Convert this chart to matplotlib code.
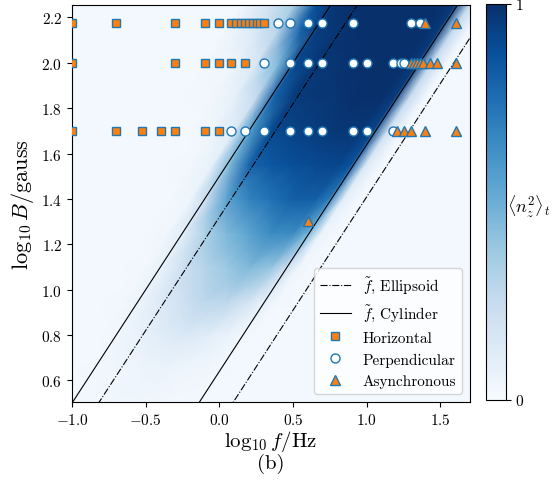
"""
Phase map of <n_z^2>_t over (log f, log B) with the experimental runs on top.
"""

import matplotlib
matplotlib.use('Agg')
import matplotlib.pyplot as plt
from matplotlib.lines import Line2D
import numpy as np

plt.rcParams['font.family'] = 'serif'
plt.rcParams['font.serif'] = ['cmr10']
plt.rcParams['mathtext.fontset'] = 'cm'
plt.rcParams['axes.formatter.use_mathtext'] = True

# field strengths of the three run rows (gauss)
B_HIGH, B_MID, B_LOW = 150, 100, 50

# horizontal runs: frequencies (Hz) per row
HOR_HIGH = [0.1, 0.2, 0.5, 0.8, 1.0, 1.2, 1.3, 1.4, 1.5, 1.6, 1.7, 1.8, 1.9, 2.0]
HOR_MID = [0.1, 0.5, 0.8, 1.0, 1.2, 1.5]
HOR_LOW = [0.1, 0.2, 0.3, 0.4, 0.5, 0.8, 1.0]

# perpendicular runs
PER_HIGH = [2.5, 3, 4, 5, 8, 20, 23]
PER_MID = [2, 3, 4, 5, 8, 10, 15, 17, 18]
PER_LOW = [1.2, 1.5, 2, 3, 4, 5, 8, 10, 15]

# asynchronous runs
ASY_HIGH = [25, 40]
ASY_MID = [20, 21, 22, 23, 24, 27, 30, 40]
ASY_LOW = [16, 18, 20, 25, 40]
ASY_EXTRA_F, ASY_EXTRA_B = [4], [20]

# f~ lines: log10 B = log10 f + offset
CYL_OFFSETS = [1.50, 0.64]
ELL_OFFSETS = [1.32, 0.41]

# simulated <n_z^2>_t, sampled along the band: rows in log10 B,
# columns in (log10 B - log10 f)
BAND_Y = [0.5, 0.65, 0.8, 0.95, 1.1, 1.25, 1.4, 1.55, 1.7, 1.85, 2.0, 2.15, 2.26]
BAND_U = [0.45, 0.56, 0.66, 0.75, 0.9, 1.05, 1.2, 1.35, 1.48, 1.6, 1.75, 1.9, 2.1]
BAND_VALUES = [
    [.02, .02, .02, .03, .03, .04, .04, .03, .03, .02, .02, .02, .02],
    [.02, .02, .03, .04, .05, .06, .05, .04, .03, .02, .02, .02, .02],
    [.02, .02, .04, .07, .12, .14, .11, .07, .04, .02, .02, .02, .02],
    [.02, .03, .10, .18, .28, .28, .20, .13, .06, .03, .02, .02, .02],
    [.02, .04, .25, .40, .45, .38, .30, .20, .08, .03, .02, .02, .02],
    [.02, .06, .50, .65, .65, .55, .45, .32, .12, .04, .02, .02, .02],
    [.02, .10, .72, .82, .82, .75, .68, .55, .25, .05, .02, .02, .02],
    [.02, .15, .86, .92, .90, .88, .85, .80, .45, .08, .03, .02, .02],
    [.02, .20, .92, .97, .97, .95, .93, .90, .60, .12, .04, .02, .02],
    [.02, .25, .95, 1.0, 1.0, .98, .97, .95, .80, .25, .08, .03, .02],
    [.02, .25, .96, 1.0, 1.0, 1.0, .98, .97, .90, .45, .15, .05, .02],
    [.02, .25, .96, 1.0, 1.0, 1.0, 1.0, .98, .95, .80, .30, .15, .03],
    [.02, .25, .96, 1.0, 1.0, 1.0, 1.0, 1.0, .97, .88, .35, .20, .05],
]

XLIM = (-1.0, 1.7)
YLIM = (0.505, 2.255)

ORANGE = '#ff7f0e'
BLUE = '#1f77b4'


def runs(ax, freqs, b, marker, face, ms):
    f = np.log10(freqs)
    ax.plot(f, np.full(len(f), np.log10(b)), ls='none', marker=marker, ms=ms,
            mfc=face, mec=BLUE, mew=1.0, zorder=4)


fig = plt.figure(figsize=(5.52, 4.89), dpi=100)
ax = fig.add_axes([0.1304, 0.1759, 0.7210, 0.8118])
cax = fig.add_axes([0.8804, 0.1800, 0.0362, 0.8098])

cmap = plt.cm.Blues
ax.set_facecolor(cmap(0.02))

# background map
yy = np.repeat(np.array(BAND_Y)[:, None], len(BAND_U), axis=1)
xx = yy - np.array(BAND_U)[None, :]
mesh = ax.pcolormesh(xx, yy, np.array(BAND_VALUES), shading='gouraud',
                     cmap=cmap, vmin=0, vmax=1, rasterized=True, zorder=1)

# f~ lines
xl = np.array(XLIM)
for c in ELL_OFFSETS:
    ax.plot(xl, xl + c, color='k', ls='-.', lw=0.8, zorder=3)
for c in CYL_OFFSETS:
    ax.plot(xl, xl + c, color='k', ls='-', lw=0.8, zorder=3)

# runs
for freqs, b in [(HOR_HIGH, B_HIGH), (HOR_MID, B_MID), (HOR_LOW, B_LOW)]:
    runs(ax, freqs, b, 's', ORANGE, 6)
for freqs, b in [(PER_HIGH, B_HIGH), (PER_MID, B_MID), (PER_LOW, B_LOW)]:
    runs(ax, freqs, b, 'o', 'white', 6.5)
for freqs, b in [(ASY_HIGH, B_HIGH), (ASY_MID, B_MID), (ASY_LOW, B_LOW)]:
    runs(ax, freqs, b, '^', ORANGE, 7)
ax.plot(np.log10(ASY_EXTRA_F), np.log10(ASY_EXTRA_B), ls='none', marker='^',
        ms=7, mfc=ORANGE, mec=BLUE, mew=1.0, zorder=4)

ax.set_xlim(*XLIM)
ax.set_ylim(*YLIM)
ax.set_xticks([-1.0, -0.5, 0.0, 0.5, 1.0, 1.5])
ax.set_yticks([0.6, 0.8, 1.0, 1.2, 1.4, 1.6, 1.8, 2.0, 2.2])
ax.tick_params(labelsize=11)
ax.set_xlabel(r'$\log_{10} f/\mathrm{Hz}$' + '\n(b)', fontsize=15,
              linespacing=1.0, labelpad=1)
ax.set_ylabel(r'$\log_{10} B/\mathrm{gauss}$', fontsize=16, labelpad=4)

handles = [
    Line2D([], [], color='k', ls='-.', lw=0.8),
    Line2D([], [], color='k', ls='-', lw=0.8),
    Line2D([], [], ls='none', marker='s', ms=6, mfc=ORANGE, mec=BLUE),
    Line2D([], [], ls='none', marker='o', ms=6.5, mfc='white', mec=BLUE),
    Line2D([], [], ls='none', marker='^', ms=7, mfc=ORANGE, mec=BLUE),
]
labels = [r'$\tilde{f}$, Ellipsoid', r'$\tilde{f}$, Cylinder',
          'Horizontal', 'Perpendicular', 'Asynchronous']
leg = ax.legend(handles, labels, loc='lower right', fontsize=11)
leg.set_zorder(6)

cb = fig.colorbar(mesh, cax=cax, ticks=[0, 1])
cb.ax.tick_params(labelsize=11)
cb.ax.set_yticklabels(['0', '1'])
cb.ax.text(1.05, 0.49, r'$\langle n_z^2\rangle_t$', transform=cb.ax.transAxes,
           fontsize=13, va='center', ha='left')

fig.savefig('out.png', dpi=100)
